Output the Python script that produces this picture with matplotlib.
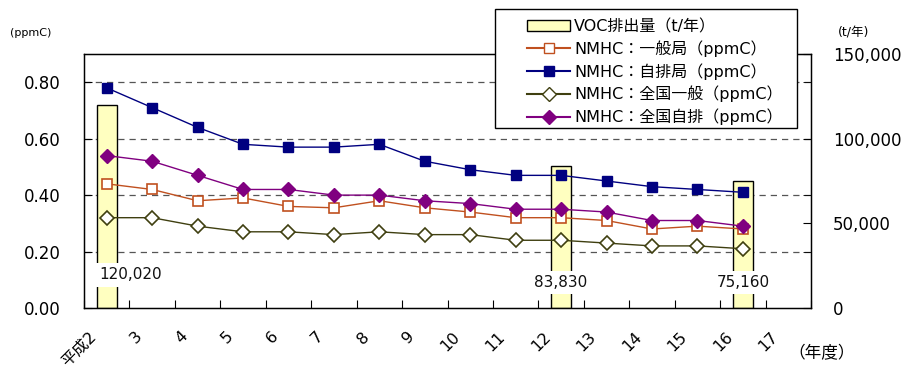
import numpy as np
import matplotlib
matplotlib.use("Agg")
import matplotlib.pyplot as plt
import matplotlib.transforms as mtransforms
from matplotlib.patches import Patch, Rectangle
from matplotlib.lines import Line2D

plt.rcParams['font.family'] = ['DejaVu Sans', 'Noto Sans CJK JP']

# fiscal years (平成)
years = ['平成2', '3', '4', '5', '6', '7', '8', '9', '10',
         '11', '12', '13', '14', '15', '16', '17']

# NMHC annual means (ppmC), 平成2..16
nmhc_ippan = [0.44, 0.42, 0.38, 0.39, 0.36, 0.355, 0.38, 0.355, 0.34,
              0.32, 0.32, 0.31, 0.28, 0.29, 0.28]
nmhc_jihai = [0.78, 0.71, 0.64, 0.58, 0.57, 0.57, 0.58, 0.52, 0.49,
              0.47, 0.47, 0.45, 0.43, 0.42, 0.41]
zenkoku_ippan = [0.32, 0.32, 0.29, 0.27, 0.27, 0.26, 0.27, 0.26, 0.26,
                 0.24, 0.24, 0.23, 0.22, 0.22, 0.21]
zenkoku_jihai = [0.54, 0.52, 0.47, 0.42, 0.42, 0.40, 0.40, 0.38, 0.37,
                 0.35, 0.35, 0.34, 0.31, 0.31, 0.29]

# VOC emissions (t/年)
voc_years = ['平成2', '12', '16']
voc_values = [120020, 83830, 75160]

left_max = 0.9
right_max = 150000

W, H = 905, 369
fig = plt.figure(figsize=(W / 100, H / 100), dpi=100)
ax = fig.add_axes([84 / W, 1 - 308 / H, (811 - 84) / W, (308 - 54) / H])
ax2 = ax.twinx()
ax.set_zorder(ax2.get_zorder() + 1)
ax.patch.set_visible(False)

x = np.arange(len(years))
xpts = x[:len(nmhc_ippan)]

# bars on the right axis
bx = [years.index(y) for y in voc_years]
ax2.bar(bx, voc_values, width=0.44, color='#FFFFC0', edgecolor='black',
        linewidth=1.0, zorder=3)
label_y = [19500, 15200, 15200]
label_ha = ['left', 'center', 'center']
label_dx = [-5, 0, 0]
for xi, v, ly, ha, dx in zip(bx, voc_values, label_y, label_ha, label_dx):
    ax2.annotate(f'{v:,}', (xi, ly), xytext=(dx, 0), textcoords='offset points',
                 ha=ha, va='center', fontsize=11, color='#111111', zorder=4,
                 bbox=dict(facecolor='white', edgecolor='none', pad=3))

# dashed grid at the left-axis ticks
grid_vals = [0.2, 0.4, 0.6, 0.8]
for g in grid_vals:
    ax2.axhline(g / left_max * right_max, color='#555555', lw=0.9,
                ls=(0, (5, 4)), zorder=1)

# NMHC lines on the left axis
ms = 7.5
ax.plot(xpts, nmhc_ippan, color='#C0501F', lw=1.0, marker='s', ms=ms,
        mfc='white', mec='#C0501F', mew=1.2)
ax.plot(xpts, nmhc_jihai, color='#000080', lw=1.0, marker='s', ms=ms,
        mfc='#000080', mec='#000080')
ax.plot(xpts, zenkoku_ippan, color='#3F3F10', lw=1.0, marker='D', ms=ms,
        mfc='white', mec='#3F3F10', mew=1.2)
ax.plot(xpts, zenkoku_jihai, color='#800080', lw=1.0, marker='D', ms=ms,
        mfc='#800080', mec='#800080')

ax.set_xlim(-0.5, len(years) - 0.5)
ax.set_ylim(0, left_max)
ax2.set_ylim(0, right_max)

ax.set_yticks([0.0, 0.2, 0.4, 0.6, 0.8])
ax.set_yticklabels([f'{v:.2f}' for v in [0.0, 0.2, 0.4, 0.6, 0.8]], fontsize=12)
ax.tick_params(axis='y', direction='in', length=6, pad=17)

ax2.set_yticks([0, 50000, 100000, 150000])
ax2.set_yticklabels(['0', '50,000', '100,000', '150,000'], fontsize=12)
ax2.set_yticks([g / left_max * right_max for g in grid_vals], minor=True)
ax2.tick_params(axis='y', which='both', direction='in', length=6, pad=16)

# category boundaries as tick marks, labels at centers
ax.set_xticks(np.arange(len(years) + 1) - 0.5)
ax.set_xticklabels([])
ax.tick_params(axis='x', which='major', direction='in', length=6)
ax.set_xticks(x, minor=True)
ax.set_xticklabels(years, minor=True, rotation=45, ha='right', va='top',
                   rotation_mode='anchor', fontsize=11.5)
ax.tick_params(axis='x', which='minor', length=0, pad=15)
shift = mtransforms.ScaledTranslation(-18 / 100, 0, fig.dpi_scale_trans)
for lbl in ax.get_xticklabels(minor=True):
    lbl.set_transform(lbl.get_transform() + shift)

for s in ax.spines.values():
    s.set_linewidth(1.0)

fig.text(10 / W, 1 - 36 / H, '(ppmC)', fontsize=8)
fig.text(838 / W, 1 - 37 / H, '(t/年)', fontsize=9)
fig.text(788 / W, 1 - 358 / H, '（年度）', fontsize=12)

# legend with a hand-drawn frame
fig.patches.append(Rectangle((495 / W, 1 - 128 / H), (797 - 495) / W,
                             (128 - 9) / H, transform=fig.transFigure,
                             facecolor='white', edgecolor='black', lw=1.0,
                             zorder=4))
handles = [
    Patch(facecolor='#FFFFC0', edgecolor='black', label='VOC排出量（t/年）'),
    Line2D([], [], color='#C0501F', marker='s', ms=ms, mfc='white',
           mec='#C0501F', label='NMHC：一般局（ppmC）'),
    Line2D([], [], color='#000080', marker='s', ms=ms, mfc='#000080',
           label='NMHC：自排局（ppmC）'),
    Line2D([], [], color='#3F3F10', marker='D', ms=ms, mfc='white',
           mec='#3F3F10', label='NMHC：全国一般（ppmC）'),
    Line2D([], [], color='#800080', marker='D', ms=ms, mfc='#800080',
           label='NMHC：全国自排（ppmC）'),
]
leg = fig.legend(handles=handles, loc='upper left',
                 bbox_to_anchor=(527 / W, 1 - 19 / H), fontsize=11.5,
                 frameon=False, handlelength=2.7, labelspacing=0.38,
                 borderpad=0, handletextpad=0.25, borderaxespad=0)
leg.set_zorder(5)

fig.savefig('out.png', dpi=100)
